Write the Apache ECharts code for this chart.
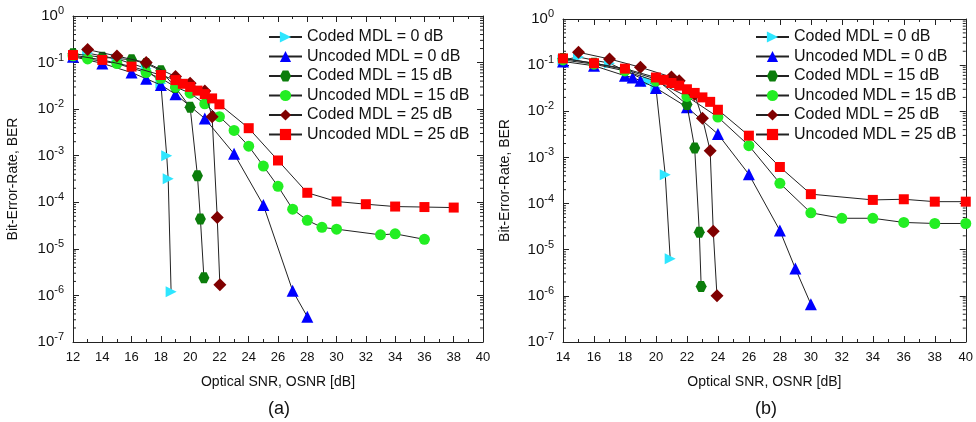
<!DOCTYPE html>
<html>
<head>
<meta charset="utf-8">
<script src="https://cdn.jsdelivr.net/npm/echarts@6/dist/echarts.min.js"></script>
<style>html,body{margin:0;padding:0;background:#fff;}#c{width:976px;height:422px;}</style>
</head>
<body>
<div id="c"></div>
<script>
// ---------- Data ----------
const seriesNames = ['Coded MDL = 0 dB','Uncoded MDL = 0 dB','Coded MDL = 15 dB','Uncoded MDL = 15 dB','Coded MDL = 25 dB','Uncoded MDL = 25 dB'];
const xTicksA = [12,14,16,18,20,22,24,26,28,30,32,34,36,38,40];
const xTicksB = [14,16,18,20,22,24,26,28,30,32,34,36,38,40];
const yTickExps = [0,-1,-2,-3,-4,-5,-6,-7];

// Panel (a)
const a_c0_x = [13,15,17,18,18.4,18.5,18.7];
const a_c0_y = [0.16,0.12,0.075,0.036,1.0e-3,3.2e-4,1.2e-6];
const a_u0_x = [12,14,16,17,18,19,21,23,25,27,28];
const a_u0_y = [0.134,0.096,0.061,0.045,0.033,0.021,0.0063,1.1e-3,8.7e-5,1.26e-6,3.5e-7];
const a_c15_x = [12,14,16,17,18,19,20,20.5,20.7,20.94];
const a_c15_y = [0.155,0.13,0.115,0.095,0.067,0.029,0.011,3.7e-4,4.4e-5,2.4e-6];
const a_u15_x = [12,13,15,17,18,19,20,21,22,23,24,25,26,27,28,29,30,33,34,36];
const a_u15_y = [0.14,0.12,0.095,0.061,0.046,0.03,0.022,0.013,0.0069,3.5e-3,1.6e-3,6.0e-4,2.2e-4,7.1e-5,4.1e-5,2.9e-5,2.65e-5,2.0e-5,2.1e-5,1.6e-5];
const a_c25_x = [13,15,17,19,20,21,21.5,21.85,22.03];
const a_c25_y = [0.19,0.138,0.1,0.05,0.036,0.0245,0.0069,4.7e-5,1.7e-6];
const a_u25_x = [12,14,16,18,19,19.5,20,20.5,21,21.5,22,24,26,28,30,32,34,36,38];
const a_u25_y = [0.145,0.114,0.082,0.054,0.042,0.035,0.03,0.025,0.021,0.017,0.0127,3.9e-3,7.9e-4,1.6e-4,1.04e-4,9.1e-5,8.1e-5,7.9e-5,7.7e-5];

// Panel (b)
const b_c0_x = [14,15,17,19.5,20,20.6,20.92];
const b_c0_y = [0.13,0.15,0.11,0.044,0.032,4.2e-4,6.4e-6];
const b_u0_x = [14,16,18,18.5,19,20,22,24,26,28,29,30];
const b_u0_y = [0.12,0.097,0.059,0.054,0.046,0.032,0.0123,3.2e-3,4.3e-4,2.6e-5,3.9e-6,6.6e-7];
const b_c15_x = [14,16,18,20,22,22.5,22.8,22.92];
const b_c15_y = [0.14,0.11,0.08,0.05,0.014,1.6e-3,2.4e-5,1.6e-6];
const b_u15_x = [14,16,18,20,22,24,26,28,30,32,34,36,38,40];
const b_u15_y = [0.13,0.105,0.075,0.045,0.021,0.0075,1.8e-3,2.75e-4,6.3e-5,4.8e-5,4.8e-5,3.9e-5,3.7e-5,3.7e-5];
const b_c25_x = [15,17,19,21,21.5,22.5,23,23.5,23.7,23.94];
const b_c25_y = [0.19,0.136,0.09,0.055,0.046,0.023,0.0071,1.4e-3,2.5e-5,1.0e-6];
const b_u25_x = [14,16,18,20,20.5,21,21.5,22,22.5,23,23.5,24,26,28,30,34,36,38,40];
const b_u25_y = [0.14,0.11,0.084,0.054,0.048,0.041,0.036,0.03,0.025,0.02,0.016,0.0108,2.96e-3,6.2e-4,1.6e-4,1.2e-4,1.24e-4,1.1e-4,1.1e-4];

// minor log ticks (mantissas)
const minorMantissas = [2,3,4,5,6,7,8,9];

// ---------- Build ----------
const zip = (xs, ys) => xs.map((x, i) => [x, ys[i]]);
const hexPath = 'path://M5,0 L15,0 L20,8.66 L15,17.32 L5,17.32 L0,8.66 Z';
const styles = [
  {symbol:'triangle', symbolRotate:-90, symbolSize:11, color:'#2ee6ff'},
  {symbol:'triangle', symbolSize:12, color:'#0000ff'},
  {symbol:hexPath, symbolSize:11, color:'#0b7d0b'},
  {symbol:'circle', symbolSize:11, color:'#22ee22'},
  {symbol:'diamond', symbolSize:13, color:'#800000'},
  {symbol:'rect', symbolSize:10, color:'#ff0000'}
];
const panelA = [zip(a_c0_x,a_c0_y),zip(a_u0_x,a_u0_y),zip(a_c15_x,a_c15_y),zip(a_u15_x,a_u15_y),zip(a_c25_x,a_c25_y),zip(a_u25_x,a_u25_y)];
const panelB = [zip(b_c0_x,b_c0_y),zip(b_u0_x,b_u0_y),zip(b_c15_x,b_c15_y),zip(b_u15_x,b_u15_y),zip(b_c25_x,b_c25_y),zip(b_u25_x,b_u25_y)];

const minorVals = [];
for (let e = -7; e < 0; e++) minorMantissas.forEach(m => minorVals.push(+(m * Math.pow(10, e)).toPrecision(3)));

const FONT = 'Liberation Sans, Arial, sans-serif';
const axisColor = '#222';

function xAxes(gridIndex, min) {
  const base = {
    type:'value', gridIndex, min, max:40, interval:2,
    axisLine:{show:true, onZero:false, lineStyle:{color:axisColor, width:1}},
    axisTick:{show:true, inside:true, length:6, lineStyle:{color:axisColor}},
    minorTick:{show:true, splitNumber:2, length:3, lineStyle:{color:axisColor}},
    splitLine:{show:false}
  };
  return [
    Object.assign({}, base, {
      position:'bottom',
      axisLabel:{show:true, color:'#111', fontSize:13, fontFamily:FONT, margin:9},
      name:'Optical SNR, OSNR [dB]', nameLocation:'middle', nameGap:33,
      nameTextStyle:{color:'#111', fontSize:14, fontFamily:FONT}
    }),
    Object.assign({}, base, {position:'top', axisLabel:{show:false}})
  ];
}
function yAxes(gridIndex, nameGap) {
  const base = {
    type:'log', logBase:10, gridIndex, min:1e-7, max:1, interval:1,
    axisLine:{show:true, onZero:false, lineStyle:{color:axisColor, width:1}},
    axisTick:{show:true, inside:true, length:6, lineStyle:{color:axisColor}},
    splitLine:{show:false}
  };
  return [
    Object.assign({}, base, {
      position:'left',
      axisLabel:{
        show:true, margin:9, fontFamily:FONT,
        formatter: v => '{b|10}{s|' + Math.round(Math.log10(v)) + '}',
        rich:{
          b:{fontSize:15, color:'#111', fontFamily:FONT},
          s:{fontSize:11, color:'#111', fontFamily:FONT, padding:[0,0,10,0]}
        }
      },
      name:'Bit-Error-Rate, BER', nameLocation:'middle', nameGap:nameGap, nameRotate:90,
      nameTextStyle:{color:'#111', fontSize:14, fontFamily:FONT}
    }),
    Object.assign({}, base, {position:'right', axisLabel:{show:false}})
  ];
}

const series = [];
function addPanel(data, gi, xMin) {
  data.forEach((d, i) => {
    series.push({
      type:'line', name:seriesNames[i], data:d,
      xAxisIndex: gi*2, yAxisIndex: gi*2,
      symbol:styles[i].symbol, symbolSize:styles[i].symbolSize,
      symbolRotate:styles[i].symbolRotate || 0,
      itemStyle:{color:styles[i].color, borderWidth:0},
      lineStyle:{color:'#222', width:1},
      showAllSymbol:true, animation:false, z:2+i
    });
  });
  series.push({
    type:'custom', xAxisIndex: gi*2, yAxisIndex: gi*2, silent:true, animation:false,
    data: minorVals.map(v => [v]), clip:false, z:1,
    renderItem: (params, api) => {
      const v = api.value(0);
      const p1 = api.coord([xMin, v]);
      const p2 = api.coord([40, v]);
      return {type:'group', children:[
        {type:'line', shape:{x1:p1[0], y1:p1[1], x2:p1[0]+3, y2:p1[1]}, style:{stroke:axisColor, lineWidth:1}},
        {type:'line', shape:{x1:p2[0], y1:p2[1], x2:p2[0]-3, y2:p2[1]}, style:{stroke:axisColor, lineWidth:1}}
      ]};
    },
    encode:{x:-1, y:0}
  });
}
addPanel(panelA, 0, 12);
addPanel(panelB, 1, 14);

const legendBase = {
  orient:'vertical', itemWidth:33, itemHeight:14, itemGap:3.5,
  textStyle:{color:'#111', fontSize:16, fontFamily:FONT, lineHeight:16},
  data: seriesNames, selectedMode:false, inactiveColor:'#111'
};

const option = {
  animation:false,
  backgroundColor:'#fff',
  grid:[
    {left:73, top:16, width:410, height:326},
    {left:563, top:19, width:403, height:323}
  ],
  xAxis: xAxes(0, 12).concat(xAxes(1, 14)),
  yAxis: yAxes(0, 53).concat(yAxes(1, 51)),
  legend:[
    Object.assign({}, legendBase, {left:263, top:24}),
    Object.assign({}, legendBase, {left:750, top:24})
  ],
  graphic:[
    {type:'text', left:268, top:400, style:{text:'(a)', fontSize:18, fontFamily:FONT, fill:'#111'}},
    {type:'text', left:755, top:400, style:{text:'(b)', fontSize:18, fontFamily:FONT, fill:'#111'}}
  ],
  series
};

const chart = echarts.init(document.getElementById('c'), null, {renderer:'canvas'});
chart.setOption(option);
</script>
</body>
</html>
